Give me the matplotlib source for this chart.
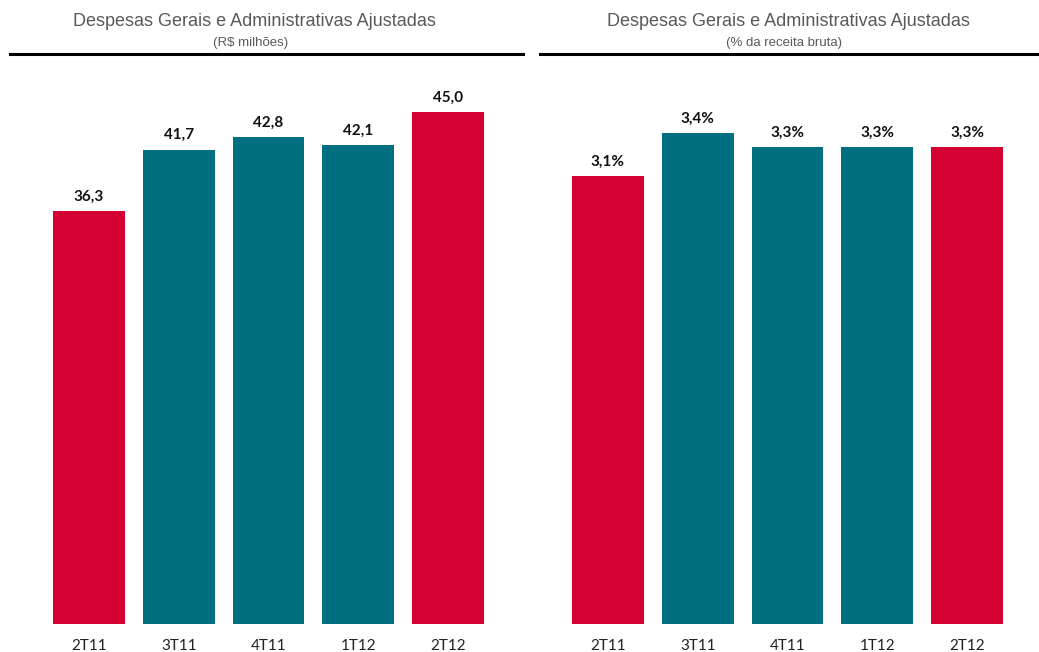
import matplotlib
matplotlib.use('Agg')
import matplotlib.pyplot as plt
from matplotlib.lines import Line2D

# data
quarters = ['2T11', '3T11', '4T11', '1T12', '2T12']
despesas_rs = [36.3, 41.7, 42.8, 42.1, 45.0]          # R$ milhões
despesas_pct = [3.1, 3.4, 3.3, 3.3, 3.3]              # % da receita bruta
highlight = [True, False, False, False, True]

RED = '#D50032'
TEAL = '#006F80'
GRAY = '#595959'

plt.rcParams['font.family'] = ['Liberation Sans', 'DejaVu Sans']

fig = plt.figure(figsize=(10.39, 6.52), dpi=100)
W, H = 1039.0, 652.0

def fx(px):
    return px / W

def fy(py):
    return 1 - py / H

ax1 = fig.add_axes([fx(44), fy(624), 449 / W, 554 / H])
ax2 = fig.add_axes([fx(563), fy(624), 449 / W, 554 / H])

colors = [RED if h else TEAL for h in highlight]
x = list(range(len(quarters)))

def draw(ax, vals, ytop, fmt, off):
    ax.bar(x, vals, width=0.8, color=colors)
    ax.set_xlim(-0.5, len(vals) - 0.5)
    ax.set_ylim(0, ytop)
    for i, v in enumerate(vals):
        ax.text(i, v + off, fmt(v), ha='center', va='center',
                fontsize=11, fontweight='bold', family=['Lato', 'DejaVu Sans'], color='#111111')
    ax.set_xticks(x)
    ax.set_xticklabels(quarters, fontsize=11, family=['Lato', 'DejaVu Sans'], color='#222222')
    ax.tick_params(axis='x', length=0, pad=11)
    ax.set_yticks([])
    for s in ax.spines.values():
        s.set_visible(False)

draw(ax1, despesas_rs, 554 / 11.37, lambda v: f'{v:.1f}'.replace('.', ','), 1.3)
draw(ax2, despesas_pct, 554 / 144.4, lambda v: f'{v:.1f}%'.replace('.', ','), 0.1)

# titles
fig.text(fx(254), fy(22), 'Despesas Gerais e Administrativas Ajustadas',
         ha='center', va='center', fontsize=13, color=GRAY)
fig.text(fx(251), fy(43), '(R$ milhões)', ha='center', va='center', fontsize=9.5, color=GRAY)
fig.text(fx(788), fy(22), 'Despesas Gerais e Administrativas Ajustadas',
         ha='center', va='center', fontsize=13, color=GRAY)
fig.text(fx(784), fy(43), '(% da receita bruta)', ha='center', va='center', fontsize=9.5, color=GRAY)

fig.add_artist(Line2D([fx(10), fx(523)], [fy(54), fy(54)], color='black', lw=2.2))
fig.add_artist(Line2D([fx(540), fx(1037)], [fy(54), fy(54)], color='black', lw=2.2))

fig.savefig('out.png', dpi=100)
